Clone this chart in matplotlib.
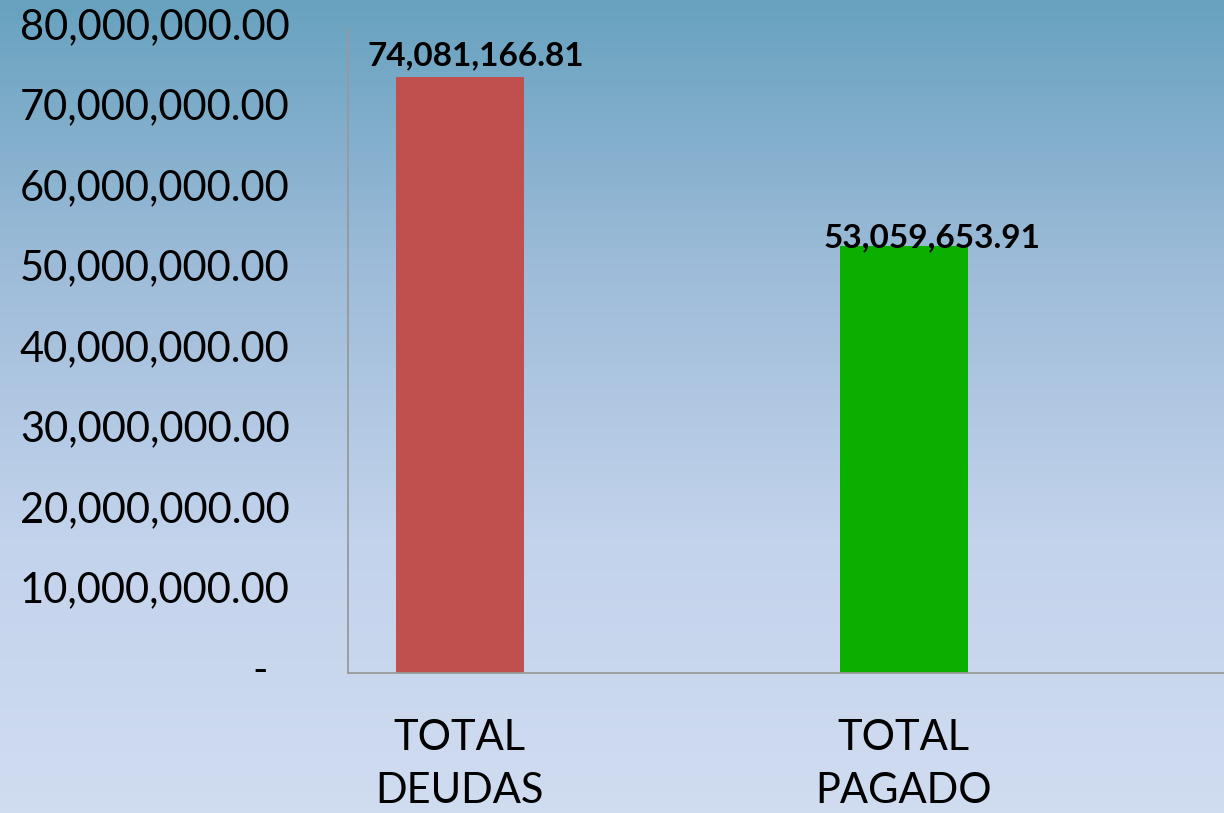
import numpy as np
import matplotlib
matplotlib.use("Agg")
import matplotlib.pyplot as plt
from matplotlib.colors import LinearSegmentedColormap
from matplotlib.ticker import FuncFormatter
from matplotlib.transforms import ScaledTranslation

categories = ["TOTAL\nDEUDAS", "TOTAL\nPAGADO"]
values = [74081166.81, 53059653.91]
bar_colors = ["#C0504D", "#0AAF00"]
value_labels = ["74,081,166.81", "53,059,653.91"]

plt.rcParams['font.family'] = ['Lato', 'DejaVu Sans']

fig = plt.figure(figsize=(12.24, 8.13), dpi=100)

# gradient background over whole figure
bg = fig.add_axes([0, 0, 1, 1], zorder=0)
cmap = LinearSegmentedColormap.from_list(
    "bg", ["#67A2BF", "#9EBCD9", "#C3D3EC", "#D0DCF0"])
grad = np.linspace(0, 1, 256).reshape(-1, 1)
bg.imshow(grad, aspect="auto", cmap=cmap, extent=[0, 1, 0, 1], origin="upper")
bg.axis("off")

ax = fig.add_axes([348 / 1224, 1 - 673 / 813, 876 / 1224, 644 / 813], zorder=1)
ax.patch.set_alpha(0)

x = np.arange(len(categories))
bars = ax.bar(x, values, width=0.288, color=bar_colors, zorder=2)

ax.set_xlim(-0.252, 1.721)
ax.set_ylim(0, 80000000)
ax.set_yticks(np.arange(0, 80000001, 10000000))


def fmt(v, pos):
    if v == 0:
        return "-  "
    return f"{v:,.2f}"


ax.yaxis.set_major_formatter(FuncFormatter(fmt))
ax.tick_params(axis="y", length=0, pad=42, labelsize=30)
ax.tick_params(axis="x", length=0, pad=33, labelsize=30)
ax.set_xticks(x)
ax.set_xticklabels(categories, linespacing=1.48)
shift = ScaledTranslation(0, 4 / 72, fig.dpi_scale_trans)
for lab in ax.get_yticklabels():
    lab.set_transform(lab.get_transform() + shift)

for side in ["top", "right"]:
    ax.spines[side].set_visible(False)
ax.spines["left"].set_color("#999999")
ax.spines["bottom"].set_color("#999999")
ax.spines["left"].set_linewidth(1.3)
ax.spines["bottom"].set_linewidth(1.3)

offsets = [(11.5, 15), (20, 6)]
for xi, v, lab, off in zip(x, values, value_labels, offsets):
    ax.annotate(lab, (xi, v), xytext=off, textcoords="offset points",
                ha="center", va="center", fontsize=24, fontweight="bold",
                zorder=3)

fig.savefig("out.png", dpi=100)
